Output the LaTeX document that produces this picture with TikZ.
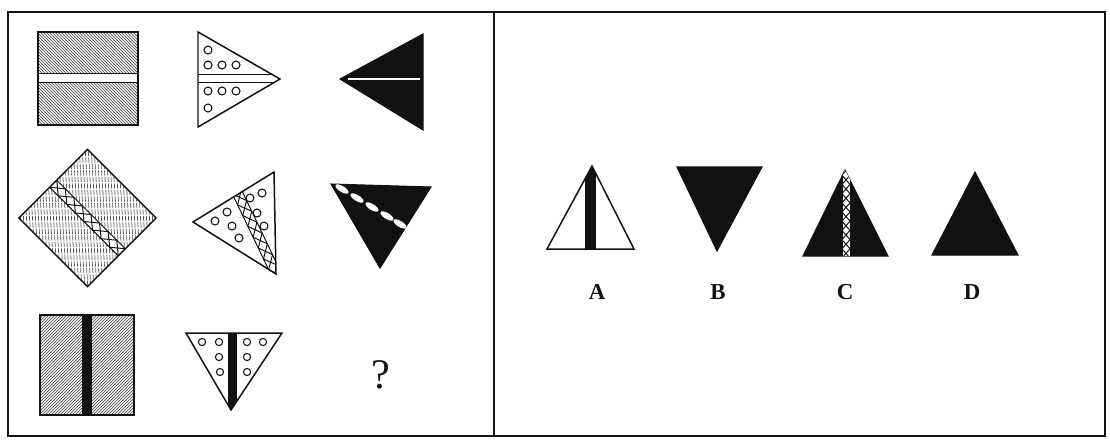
\documentclass[tikz,border=0pt]{standalone}
\usepackage{fontspec}
\setmainfont{Liberation Serif}
\usetikzlibrary{calc}
\definecolor{fgink}{HTML}{111111}
\definecolor{fghatch}{HTML}{555555}
\tikzset{
  fg frame/.style={draw=fgink, line width=0.9pt},
  fg shape/.style={draw=fgink, line width=0.85pt, line join=miter},
  fg solid/.style={fill=fgink, draw=fgink, line width=0.6pt},
  fg hatch/.style={draw=fghatch, line width=0.4pt},
  fg thin/.style={draw=fgink, line width=0.55pt},
  fg dot/.style={draw=fgink, line width=0.6pt, fill=white},
  fg label/.style={font=\bfseries\fontsize{13}{15}\selectfont, text=fgink},
  fg mark/.style={font=\fontsize{24}{26}\selectfont, text=fgink}
}
% chain band: x, y, angle, cells, cell length, half width
\newcommand{\fgchain}[6]{%
  \begin{scope}[shift={(#1,#2)}, rotate=#3]
    \fill[white] (0,-#6) rectangle ({#4*#5},#6);
    \draw[fg thin] (0,-#6) -- ({#4*#5},-#6) (0,#6) -- ({#4*#5},#6);
    \foreach \k in {1,...,#4}
      \draw[fg thin] ({(\k-1)*#5},-#6) -- ({\k*#5},#6) ({(\k-1)*#5},#6) -- ({\k*#5},-#6);
  \end{scope}}

\begin{document}
\begin{tikzpicture}[x=0.02cm, y=-0.02cm]
  \useasboundingbox (0,0) rectangle (1110,441);
  \draw[fg frame] (8,12) rectangle (1105,436);
  \draw[fg frame] (494,12) -- (494,436);

  % row 1
  \begin{scope}
    \clip (38,32) rectangle (138,125);
    \foreach \i in {-100,-97,...,100}
      \draw[fg hatch] (38+\i,32) -- ++(100,100);
  \end{scope}
  \filldraw[fg thin, fill=white] (38,73) rectangle (138,82);
  \draw[fg shape] (38,32) rectangle (138,125);

  \foreach \x/\y in {208/50,208/65,222/65,236/65,208/91,222/91,236/91,208/108}
    \draw[fg dot] (\x,\y) circle [radius=4];
  \begin{scope}
    \clip (198,32) -- (280,79) -- (198,127) -- cycle;
    \draw[fg thin] (198,74) -- (280,74) (198,82) -- (280,82);
  \end{scope}
  \draw[fg shape] (198,32) -- (280,79) -- (198,127) -- cycle;

  \filldraw[fg solid] (423,34) -- (423,130) -- (340,79) -- cycle;
  \draw[white, line width=1.3pt] (348,79) -- (420,79);

  % row 2
  \begin{scope}[shift={(87.5,218)}, rotate=-45]
    \begin{scope}
      \clip (-48.5,-48.5) rectangle (48.5,48.5);
      \begin{scope}[rotate=45]
        \foreach \i in {-90,-87,...,90}
          \draw[fg hatch, dash pattern=on 3pt off 0.7pt] (\i,-80) -- ++(10,160);
      \end{scope}
    \end{scope}
    \fgchain{-48.5}{0}{0}{8}{12.125}{5}
    \draw[fg shape] (-48.5,-48.5) rectangle (48.5,48.5);
  \end{scope}

  \foreach \x/\y in {215/221,227/212,232/226,239/238,250/198,262/193,257/213,264/226}
    \draw[fg dot] (\x,\y) circle [radius=4];
  \begin{scope}
    \clip (193,222) -- (274,172) -- (276,274) -- cycle;
    \fgchain{231.7}{181}{-64.4}{9}{12}{5}
  \end{scope}
  \draw[fg shape] (193,222) -- (274,172) -- (276,274) -- cycle;

  \filldraw[fg solid] (331,184) -- (431,187) -- (380,268) -- cycle;
  \foreach \x/\y in {342/189,357/198,372/207,387/216,400/224}
    \fill[white, rotate around={-31.5:(\x,\y)}] (\x,\y) ellipse [x radius=7.5, y radius=3];

  % row 3
  \begin{scope}
    \clip (40,315) rectangle (134,415);
    \foreach \i in {-100,-97,...,100}
      \draw[fg hatch] (40+\i,415) -- ++(100,-100);
  \end{scope}
  \fill[fgink] (82,315) rectangle (92,415);
  \draw[fg shape] (40,315) rectangle (134,415);

  \foreach \x/\y in {202/342,219/342,219/357,220/372,247/342,263/342,247/357,247/372}
    \draw[fg dot] (\x,\y) circle [radius=3.6];
  \begin{scope}
    \clip (186,333) -- (282,333) -- (231,410) -- cycle;
    \fill[fgink] (228,333) rectangle (237,412);
  \end{scope}
  \draw[fg shape] (186,333) -- (282,333) -- (231,410) -- cycle;

  \node[fg mark] (qmark) at (381,375) {?};

  % answers
  \begin{scope}
    \clip (592,166) -- (634,249) -- (547,249) -- cycle;
    \fill[fgink] (585,160) rectangle (596,250);
  \end{scope}
  \draw[fg shape] (592,166) -- (634,249) -- (547,249) -- cycle;

  \filldraw[fg solid] (677,167) -- (762,167) -- (717,251) -- cycle;

  \filldraw[fg solid] (845,170) -- (888,256) -- (803,256) -- cycle;
  \begin{scope}
    \clip (845,170) -- (888,256) -- (803,256) -- cycle;
    \fgchain{846}{166}{-90}{10}{9.2}{4}
  \end{scope}

  \filldraw[fg solid] (975,172) -- (1018,255) -- (932,255) -- cycle;

  \node[fg label] (labA) at (597,292) {A};
  \node[fg label] (labB) at (718,292) {B};
  \node[fg label] (labC) at (845,292) {C};
  \node[fg label] (labD) at (972,292) {D};
\end{tikzpicture}
\end{document}
